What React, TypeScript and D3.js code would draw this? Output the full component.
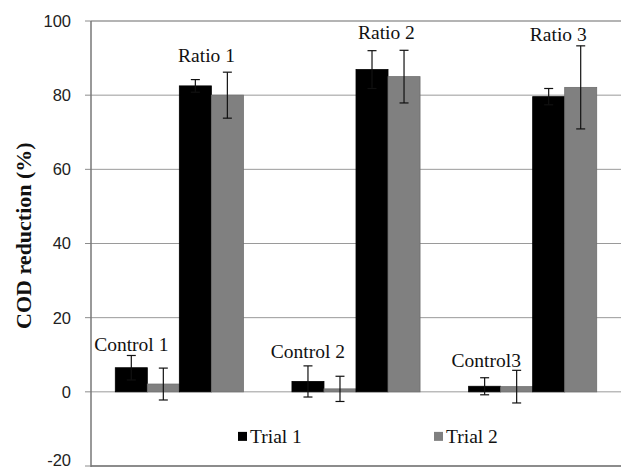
import React from "react";
import * as d3 from "d3";

const categories = ["1", "2", "3"];
const trials = ["Trial 1", "Trial 2"];
const controlTrial1 = [6.5, 2.8, 1.5];
const controlTrial2 = [2.1, 0.8, 1.4];
const ratioTrial1 = [82.5, 86.9, 79.6];
const ratioTrial2 = [80.0, 85.0, 82.1];
const controlErr1 = [3.3, 4.2, 2.3];
const controlErr2 = [4.3, 3.4, 4.4];
const ratioErr1 = [1.7, 5.1, 2.2];
const ratioErr2 = [6.2, 7.1, 11.2];
const yTicks = [-20, 0, 20, 40, 60, 80, 100];
const labelTexts = ["Control 1", "Ratio 1", "Control 2", "Ratio 2", "Control3", "Ratio 3"];
const labelValues = [11.1, 88.9, 9.1, 95.1, 6.8, 94.7];
const labelSlot = [0.5, 2.85, 0.5, 2.95, 0.55, 2.8];

const W = 621;
const H = 472;
const left = 91;
const right = 621;
const top = 21;
const bottom = 466;

export default function App() {
  const y = d3.scaleLinear().domain([-20, 100]).range([bottom, top]);
  const x = d3.scaleBand().domain(categories).range([left, right]).paddingInner(0.275).paddingOuter(0.1375);
  const sub = d3.scaleBand().domain(d3.range(4).map(String)).range([0, x.bandwidth()]);
  const colors = ["#000000", "#808080"];

  const bars: any[] = [];
  categories.forEach((c, i) => {
    const vals = [controlTrial1[i], controlTrial2[i], ratioTrial1[i], ratioTrial2[i]];
    const errs = [controlErr1[i], controlErr2[i], ratioErr1[i], ratioErr2[i]];
    vals.forEach((v, j) => {
      bars.push({ c, j, v, e: errs[j], color: colors[j % 2] });
    });
  });

  const font = "'Liberation Serif', 'Times New Roman', serif";
  const sans = "'Liberation Sans', Arial, sans-serif";

  return (
    <svg width={W} height={H} style={{ position: "absolute", left: 0, top: 0, background: "#fff" }}>
      <rect x={0} y={0} width={W} height={H} fill="#fff" />
      {yTicks.map((t) => (
        <g key={t}>
          <line
            x1={left}
            x2={right}
            y1={y(t)}
            y2={y(t)}
            stroke={t === 100 ? "#b4b4b4" : t === -20 ? "#8c8c8c" : "#9a9a9a"}
            strokeWidth={t === 100 || t === -20 ? 2 : 1}
          />
          <line x1={left - 6} x2={left} y1={y(t)} y2={y(t)} stroke="#8c8c8c" strokeWidth={1} />
          <text x={left - 20} y={Math.min(y(t), H - 12)} dy="0.36em" textAnchor="end" fontFamily={sans} fontSize={16.5} fill="#222">
            {t}
          </text>
        </g>
      ))}
      <line x1={left} x2={left} y1={top} y2={bottom + 1} stroke="#777" strokeWidth={1.5} />
      {bars.map((b, k) => {
        const bx = (x(b.c) as number) + (sub(String(b.j)) as number);
        const bw = sub.bandwidth();
        const y0 = y(0);
        const yv = y(b.v);
        return (
          <rect key={k} x={bx} y={Math.min(y0, yv)} width={bw} height={Math.abs(y0 - yv)} fill={b.color} stroke={b.j % 2 ? "#6e6e6e" : "#000"} strokeWidth={0.8} />
        );
      })}
      {bars.map((b, k) => {
        const cx = (x(b.c) as number) + (sub(String(b.j)) as number) + sub.bandwidth() / 2;
        const y1 = y(b.v + b.e);
        const y2 = y(b.v - b.e);
        return (
          <g key={"e" + k} stroke="#111" strokeWidth={1.2}>
            <line x1={cx} x2={cx} y1={y1} y2={y2} />
            <line x1={cx - 4.5} x2={cx + 4.5} y1={y1} y2={y1} />
            <line x1={cx - 4.5} x2={cx + 4.5} y1={y2} y2={y2} />
          </g>
        );
      })}
      {labelTexts.map((t, i) => {
        const ci = Math.floor(i / 2);
        const cx = (x(categories[ci]) as number) + sub.step() * labelSlot[i];
        return (
          <text key={t} x={cx} y={y(labelValues[i])} textAnchor="middle" fontFamily={font} fontSize={19.5} fill="#111">
            {t}
          </text>
        );
      })}
      <text
        transform={`translate(31, ${(y(40) + y(20)) / 2 - 45}) rotate(-90)`}
        textAnchor="middle"
        fontFamily={font}
        fontWeight="bold"
        fontSize={22}
        fill="#111"
      >
        COD reduction (%)
      </text>
      {trials.map((t, i) => {
        const lx = i === 0 ? 238 : 434;
        return (
          <g key={t}>
            <rect x={lx} y={y(-10.8)} width={9} height={9} fill={colors[i]} />
            <text x={lx + 12} y={y(-13.7)} fontFamily={font} fontSize={19.5} fill="#111">
              {t}
            </text>
          </g>
        );
      })}
    </svg>
  );
}
